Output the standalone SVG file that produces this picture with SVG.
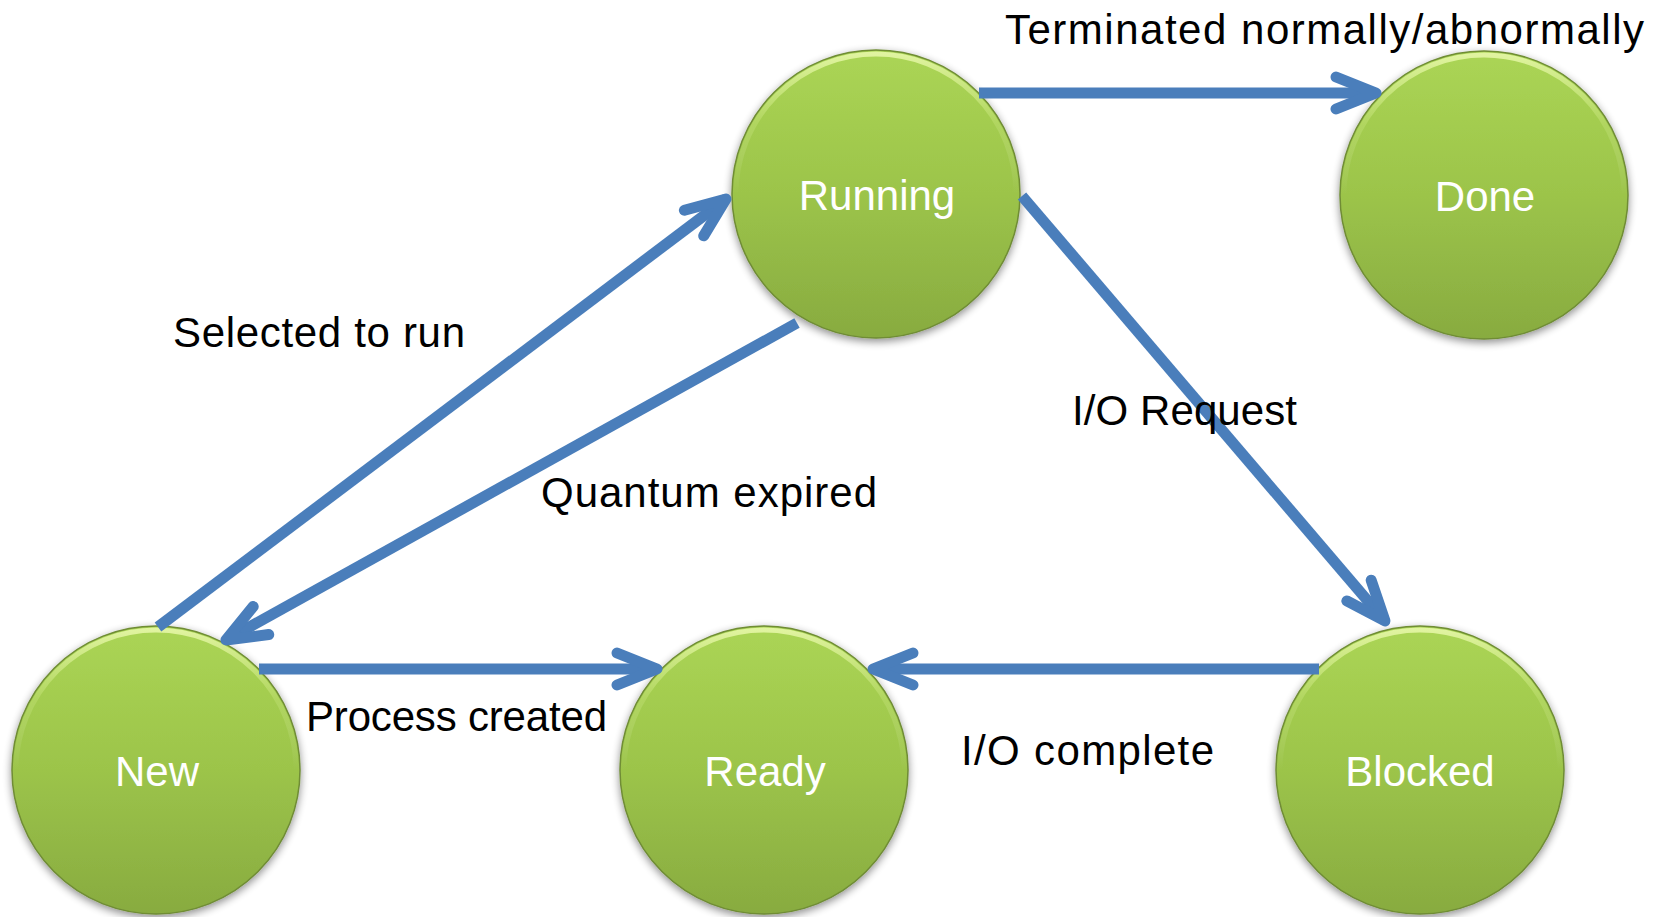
<svg xmlns="http://www.w3.org/2000/svg" width="1665" height="917" viewBox="0 0 1665 917">
  <defs>
    <linearGradient id="ballFill" x1="0" y1="0" x2="0" y2="1">
      <stop offset="0" stop-color="#abd555"/>
      <stop offset="0.5" stop-color="#9cc44a"/>
      <stop offset="1" stop-color="#88ab40"/>
    </linearGradient>
    <linearGradient id="rimLight" x1="0" y1="0" x2="0" y2="1">
      <stop offset="0" stop-color="#e6f7a8" stop-opacity="0.9"/>
      <stop offset="0.25" stop-color="#d8f090" stop-opacity="0.25"/>
      <stop offset="0.5" stop-color="#ffffff" stop-opacity="0"/>
      <stop offset="1" stop-color="#ffffff" stop-opacity="0"/>
    </linearGradient>
    <filter id="shadow" x="-20%" y="-20%" width="140%" height="140%">
      <feGaussianBlur in="SourceAlpha" stdDeviation="4"/>
      <feOffset dx="0" dy="3" result="b"/>
      <feComponentTransfer><feFuncA type="linear" slope="0.45"/></feComponentTransfer>
      <feMerge><feMergeNode/><feMergeNode in="SourceGraphic"/></feMerge>
    </filter>
    <marker id="chev" markerUnits="userSpaceOnUse" orient="auto" refX="0" refY="0" markerWidth="10" markerHeight="10" overflow="visible">
      <path d="M-40,-16 L0,0 L-40,16" fill="none" stroke="#4a7ebb" stroke-width="11" stroke-linecap="round" stroke-linejoin="round"/>
    </marker>
    <style>
      .ball { fill: url(#ballFill); stroke: #6f8c35; stroke-width: 1.5; filter: url(#shadow); }
      .rim { fill: none; stroke: url(#rimLight); stroke-width: 5; }
      .ntext { font-family: "Liberation Sans", Arial, sans-serif; font-size: 42px; fill: #ffffff; text-anchor: middle; }
      .label { font-family: "Liberation Sans", Arial, sans-serif; font-size: 42px; fill: #000000; }
      .edge { fill: none; stroke: #4a7ebb; stroke-width: 11; stroke-linecap: butt; marker-end: url(#chev); }
    </style>
  </defs>
  <rect width="1665" height="917" fill="#ffffff"/>

  <g id="running">
    <circle class="ball" cx="876" cy="194" r="144"/>
    <circle class="rim" cx="876" cy="194" r="140"/>
    <text class="ntext" x="877" y="210">Running</text>
  </g>
  <g id="done">
    <circle class="ball" cx="1484" cy="195" r="144"/>
    <circle class="rim" cx="1484" cy="195" r="140"/>
    <text class="ntext" x="1485" y="211">Done</text>
  </g>
  <g id="new">
    <circle class="ball" cx="156" cy="770" r="144"/>
    <circle class="rim" cx="156" cy="770" r="140"/>
    <text class="ntext" x="157" y="786">New</text>
  </g>
  <g id="ready">
    <circle class="ball" cx="764" cy="770" r="144"/>
    <circle class="rim" cx="764" cy="770" r="140"/>
    <text class="ntext" x="765" y="786">Ready</text>
  </g>
  <g id="blocked">
    <circle class="ball" cx="1420" cy="770" r="144"/>
    <circle class="rim" cx="1420" cy="770" r="140"/>
    <text class="ntext" x="1420" y="786">Blocked</text>
  </g>

  <g id="connectors">
    <line class="edge" x1="979" y1="93" x2="1376" y2="93"/>
    <line class="edge" x1="1022" y1="196" x2="1385" y2="621"/>
    <line class="edge" x1="1319" y1="669" x2="873" y2="669"/>
    <line class="edge" x1="259" y1="669" x2="657" y2="669"/>
    <line class="edge" x1="158" y1="627" x2="726" y2="199"/>
    <line class="edge" x1="797" y1="323" x2="226" y2="640"/>
  </g>

  <g id="labels">
    <text class="label" x="1005" y="44" textLength="639" lengthAdjust="spacing">Terminated normally/abnormally</text>
    <text class="label" x="173" y="347" textLength="292" lengthAdjust="spacing">Selected to run</text>
    <text class="label" x="1072" y="425" textLength="225" lengthAdjust="spacing">I/O Request</text>
    <text class="label" x="541" y="507" textLength="336" lengthAdjust="spacing">Quantum expired</text>
    <text class="label" x="306" y="731" textLength="301" lengthAdjust="spacing">Process created</text>
    <text class="label" x="961" y="765" textLength="253" lengthAdjust="spacing">I/O complete</text>
  </g>
</svg>
